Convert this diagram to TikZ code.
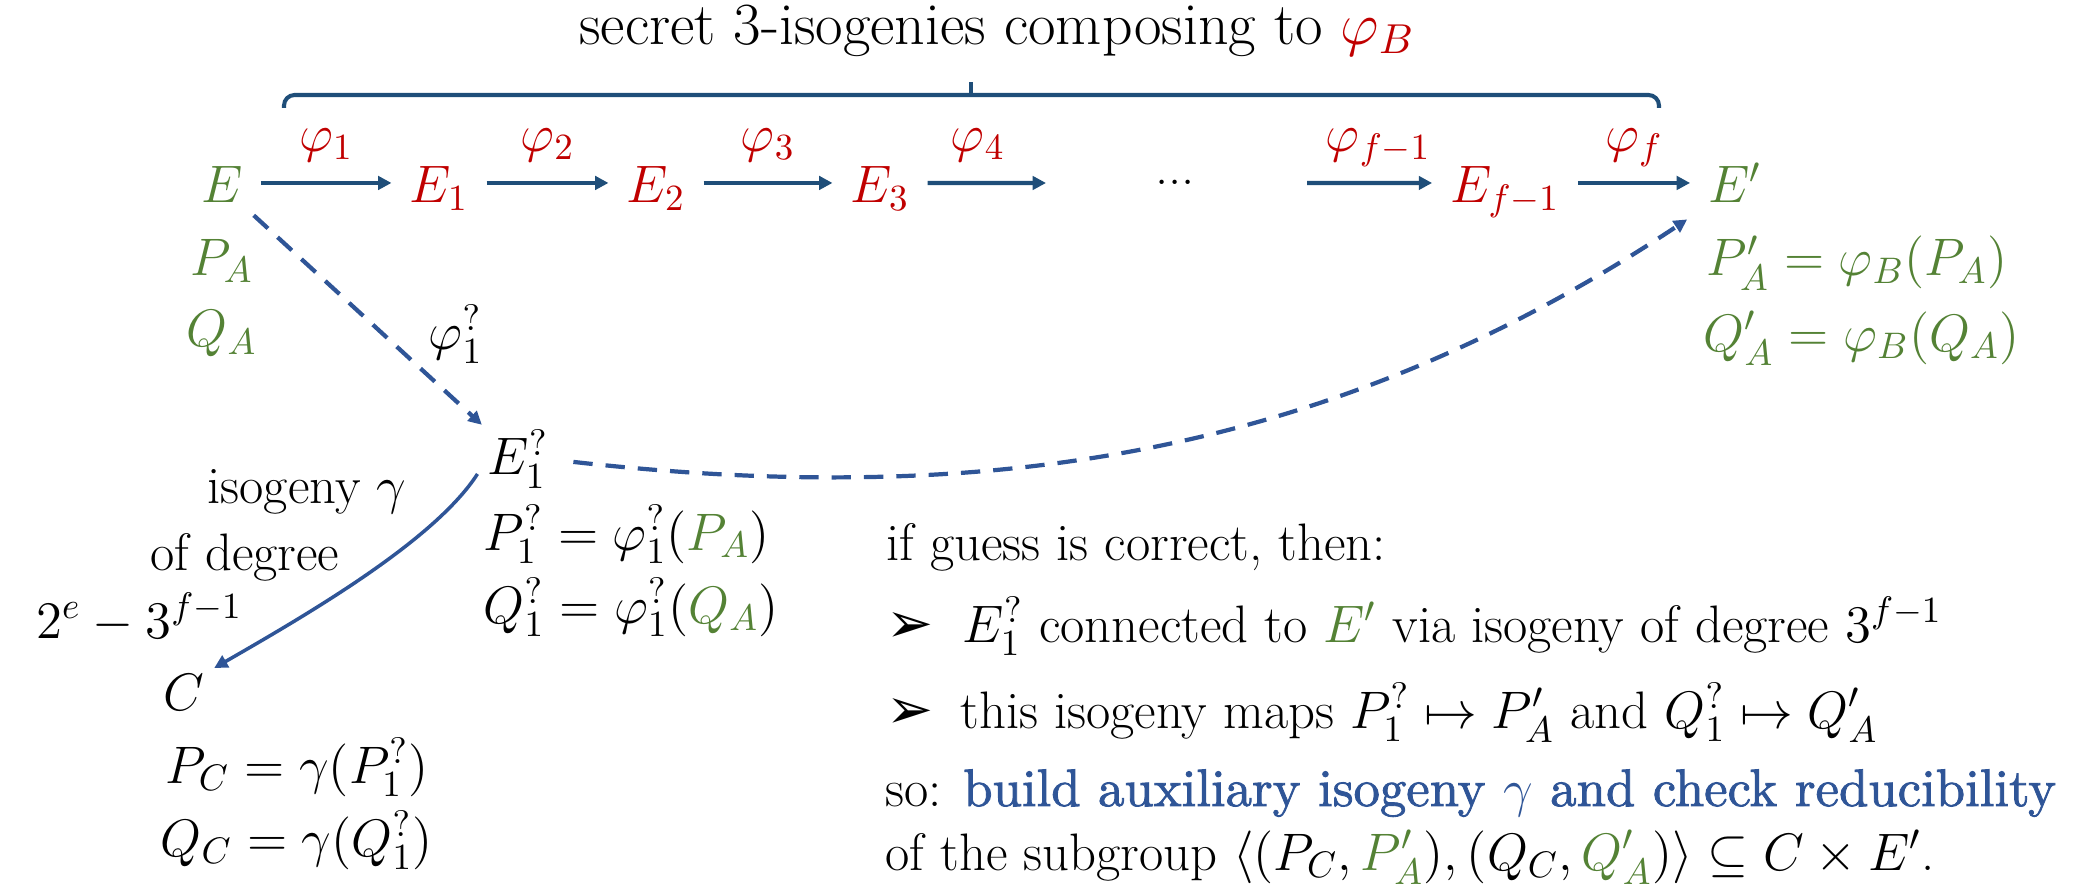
\RequirePackage{fix-cm}
\documentclass[tikz,border=0pt]{standalone}
\usepackage{amsmath,amssymb}
\usepackage{fontspec}
\usetikzlibrary{positioning,arrows.meta}
\newfontfamily\dingfont{DejaVu Sans}
\newfontfamily\semibf{lmroman10-regular.otf}[FakeBold=1.6]
\definecolor{arrownavy}{HTML}{1F4E79}
\definecolor{guessblue}{HTML}{2F5597}
\definecolor{curvered}{HTML}{C00000}
\definecolor{knowngreen}{HTML}{548235}

\begin{document}
\begin{tikzpicture}[x=0.01cm, y=-0.01cm,
  font=\fontsize{15}{18}\selectfont,
  every node/.style={inner sep=0pt},
  row/.style={inner sep=0pt, text height=12pt, text depth=0.6pt, anchor=base},
  secret/.style={text=curvered},
  known/.style={text=knowngreen},
  lab/.style={anchor=base, yshift=9pt, text=curvered},
  fwd/.style={-{Triangle[length=3.8pt,width=3.8pt]}, line width=1.2pt, draw=arrownavy, shorten <=5pt, shorten >=5pt},
  guess/.style={-{Triangle[length=3.8pt,width=3.8pt]}, line width=1.2pt, draw=guessblue, dash pattern=on 5.5pt off 3.7pt},
  aux/.style={-{Triangle[length=3.8pt,width=3.8pt]}, line width=1pt, draw=guessblue},
  brace/.style={line width=1.15pt, draw=arrownavy, rounded corners=3pt},
  bullet/.style={anchor=base west, font=\dingfont\fontsize{16}{18}\selectfont}
]
\useasboundingbox (0,0) rectangle (2078,891);

% brace over the chain
\node[anchor=base, font=\fontsize{17}{20}\selectfont] (title) at (997,45) {secret 3-isogenies composing to $\color{curvered}\varphi_B$};
\draw[brace] (284,108) -- (284,95) -- (1659,95) -- (1659,108);
\draw[brace] (971,95) -- (971,82);

% chain of 3-isogenies
\node[row, known] (e) at (222,203) {$E$};
\node[row, secret] (e1) at (439,203) {$E_1$};
\node[row, secret] (e2) at (656,203) {$E_2$};
\node[row, secret] (e3) at (880,203) {$E_3$};
\node (dots) at (1175,182) {...};
\node[row, secret] (ef1) at (1505,203) {$E_{f-1}$};
\node[row, known] (ep) at (1735,203) {$E'$};
\coordinate (o4) at (1046,183);
\coordinate (i1) at (1307,183);

\draw[fwd] (e) -- node[lab] {$\varphi_1$} (e1);
\draw[fwd] (e1) -- node[lab] {$\varphi_2$} (e2);
\draw[fwd] (e2) -- node[lab] {$\varphi_3$} (e3);
\draw[fwd, shorten >=0pt] (e3) -- node[lab] {$\varphi_4$} (o4);
\draw[fwd, shorten <=0pt] (i1) -- node[lab] {$\varphi_{f-1}$} (ef1);
\draw[fwd] (ef1) -- node[lab] {$\varphi_f$} (ep);

% torsion points
\node[anchor=base, known] (pa) at (222,275) {$P_A$};
\node[anchor=base, known] (qa) at (222,347) {$Q_A$};
\node[anchor=base west, known] (pap) at (1706,276) {$P'_A = \varphi_B(P_A)$};
\node[anchor=base west, known] (qap) at (1703,351) {$Q'_A = \varphi_B(Q_A)$};

% guessed first step
\node[anchor=base west] (phiq) at (428,350) {$\varphi_1^?$};
\node[anchor=base west] (e1q) at (487,475) {$E_1^?$};
\node[anchor=base west] (p1q) at (483,550) {$P_1^? = \varphi_1^?({\color{knowngreen}P_A})$};
\node[anchor=base west] (q1q) at (483,623) {$Q_1^? = \varphi_1^?({\color{knowngreen}Q_A})$};

\draw[guess, shorten <=4pt, shorten >=2pt] (e.south east) -- (e1q.north west);
\draw[guess, shorten <=7pt, shorten >=7pt] (e1q.east) .. controls (1000,510) and (1340,450) .. (ep.south west);

% auxiliary isogeny
\node[anchor=base] (c) at (184,710) {$C$};
\node[anchor=base east] (deg1) at (407,503) {isogeny $\gamma$};
\node[anchor=base east] (deg2) at (340,570) {of degree};
\node[anchor=base east] (deg3) at (243,638) {$2^e - 3^{f-1}$};
\node[anchor=base west] (pc) at (165,783) {$P_C = \gamma(P_1^?)$};
\node[anchor=base west] (qc) at (160,856) {$Q_C = \gamma(Q_1^?)$};

\draw[aux, shorten <=5pt, shorten >=3pt] (e1q.west) .. controls (435,540) and (310,613) .. (c.north east);

% conclusion
\node[anchor=base west] (cond) at (886,560) {if guess is correct, then:};
\node[bullet] (b1) at (886,642) {➢};
\node[anchor=base west] (t1) at (962,642) {$E_1^?$ connected to $\color{knowngreen}E'$ via isogeny of degree $3^{f-1}$};
\node[bullet] (b2) at (886,728) {➢};
\node[anchor=base west] (t2) at (960,728) {this isogeny maps $P_1^? \mapsto P'_A$ and $Q_1^? \mapsto Q'_A$};
\node[anchor=base west] (so) at (885,806) {so: {\color{guessblue}\semibf build auxiliary isogeny $\gamma$ and check reducibility}};
\node[anchor=base west] (sub) at (885,870) {of the subgroup $\langle (P_C, {\color{knowngreen}P'_A}), (Q_C, {\color{knowngreen}Q'_A}) \rangle \subseteq C \times E'$.};
\end{tikzpicture}
\end{document}
